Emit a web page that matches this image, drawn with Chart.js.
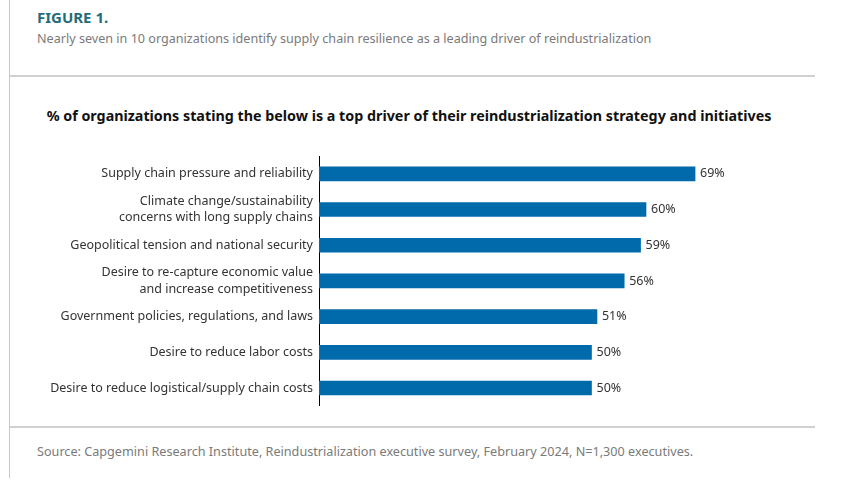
<!DOCTYPE html>
<html lang="en">
<head>
  <meta charset="UTF-8" />
  <title>Figure 1 - Reindustrialization drivers</title>
  <style>
    body {
      margin: 0;
      background: #fff;
      font-family: "Noto Sans", Arial, sans-serif;
      width: 847px;
      height: 490px;
      position: relative;
      overflow: hidden;
    }
    .regla-v {
      position: absolute;
      left: 9px;
      top: 0;
      width: 1px;
      height: 478px;
      background: #c8c8c8;
    }
    .regla-h {
      position: absolute;
      left: 9px;
      width: 806px;
      height: 2px;
      background: #d0d0d0;
    }
    .figura {
      position: absolute;
      left: 37px;
      top: 7px;
      font-size: 15px;
      font-weight: bold;
      color: #1f6d7a;
    }
    .subtitulo {
      position: absolute;
      left: 37px;
      top: 30px;
      font-size: 12.6px;
      color: #7a7a7a;
    }
    .titulo {
      position: absolute;
      left: 0;
      width: 818px;
      top: 106px;
      text-align: center;
      font-size: 14.3px;
      font-weight: bold;
      color: #111;
    }
    .fuente {
      position: absolute;
      left: 37px;
      top: 442px;
      font-size: 12.65px;
      color: #7a7a7a;
    }
    #grafico {
      position: absolute;
      left: 0;
      top: 140px;
    }
  </style>
</head>
<body>
  <div class="regla-v"></div>
  <div class="regla-h" style="top:75px"></div>
  <div class="regla-h" style="top:426px"></div>
  <div class="figura">FIGURE 1.</div>
  <div class="subtitulo">Nearly seven in 10 organizations identify supply chain resilience as a leading driver of reindustrialization</div>
  <div class="titulo">% of organizations stating the below is a top driver of their reindustrialization strategy and initiatives</div>
  <div class="fuente">Source: Capgemini Research Institute, Reindustrialization executive survey, February 2024, N=1,300 executives.</div>

  <div id="grafico" style="width:847px;height:280px"><canvas id="lienzo"></canvas></div>

  <script src="https://cdn.jsdelivr.net/npm/chart.js"></script>
  <script>
    const categorias = [
      ["Supply chain pressure and reliability"],
      ["Climate change/sustainability", "concerns with long supply chains"],
      ["Geopolitical tension and national security"],
      ["Desire to re-capture economic value", "and increase competitiveness"],
      ["Government policies, regulations, and laws"],
      ["Desire to reduce labor costs"],
      ["Desire to reduce logistical/supply chain costs"]
    ];
    const porcentajes = [69, 60, 59, 56, 51, 50, 50];

    const fuente = '"Noto Sans", Arial, sans-serif';

    // etiquetas de valor al final de cada barra
    const etiquetasValor = {
      id: "etiquetasValor",
      afterDatasetsDraw(chart) {
        const ctx = chart.ctx;
        const meta = chart.getDatasetMeta(0);
        ctx.save();
        ctx.font = "12.5px " + fuente;
        ctx.fillStyle = "#333";
        ctx.textBaseline = "middle";
        meta.data.forEach((barra, i) => {
          ctx.fillText(porcentajes[i] + "%", barra.x + 5, barra.y);
        });
        ctx.restore();
      }
    };

    new Chart(document.getElementById("lienzo"), {
      type: "bar",
      data: {
        labels: categorias,
        datasets: [{
          data: porcentajes,
          backgroundColor: "#006aab",
          barThickness: 14
        }]
      },
      options: {
        indexAxis: "y",
        responsive: true,
        maintainAspectRatio: false,
        animation: false,
        layout: { padding: { top: 16, bottom: 13, right: 92 } },
        plugins: {
          legend: { display: false },
          tooltip: { enabled: false }
        },
        scales: {
          x: {
            display: false,
            min: 0,
            max: 80
          },
          y: {
            afterFit(escala) { escala.width = 319; },
            grid: { display: false, drawTicks: false },
            border: { display: true, color: "#000", width: 1 },
            ticks: {
              color: "#333",
              padding: 6,
              font: { family: fuente, size: 12.5, lineHeight: 1.3 }
            }
          }
        }
      },
      plugins: [etiquetasValor]
    });
  </script>
</body>
</html>
